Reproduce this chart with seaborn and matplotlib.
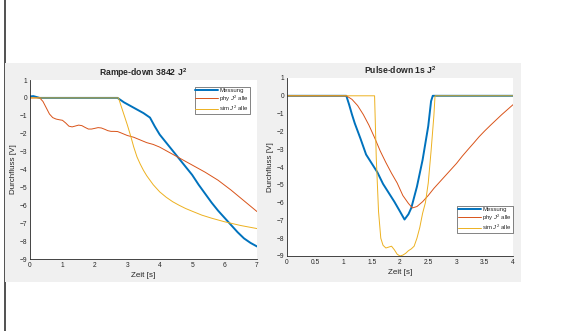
import numpy as np
import pandas as pd
import matplotlib
matplotlib.use("Agg")
import matplotlib.pyplot as plt
from matplotlib.patches import Rectangle
from matplotlib.lines import Line2D
import seaborn as sns

# --- Rampe-down 3842 J^2 ---
ramp_mess_x = [0, 0.1, 0.2, 0.3, 2.7, 2.9, 3.1, 3.3, 3.5, 3.7, 3.85, 4.0, 4.2, 4.4, 4.6, 4.8,
               5.0, 5.2, 5.4, 5.6, 5.8, 6.0, 6.2, 6.4, 6.6, 6.8, 7.0]
ramp_mess_y = [0.08, 0.1, 0.05, 0, 0, -0.25, -0.45, -0.65, -0.85, -1.1, -1.6, -2.05, -2.5, -2.95,
               -3.4, -3.85, -4.3, -4.85, -5.35, -5.85, -6.3, -6.7, -7.1, -7.5, -7.85, -8.1, -8.3]
ramp_phy_x = [0, 0.3, 0.4, 0.5, 0.6, 0.7, 0.8, 0.9, 1.0, 1.1, 1.2, 1.3, 1.4, 1.5, 1.6, 1.7, 1.8,
              1.9, 2.0, 2.1, 2.2, 2.3, 2.4, 2.5, 2.6, 2.7, 2.8, 3.0, 3.2, 3.4, 3.6, 3.8, 4.0,
              4.3, 4.6, 5.0, 5.4, 5.8, 6.2, 6.6, 7.0]
ramp_phy_y = [0, 0, -0.2, -0.55, -0.9, -1.1, -1.18, -1.22, -1.25, -1.4, -1.58, -1.62, -1.57,
              -1.52, -1.55, -1.65, -1.74, -1.74, -1.7, -1.66, -1.68, -1.75, -1.83, -1.87, -1.87,
              -1.88, -1.95, -2.1, -2.2, -2.35, -2.5, -2.6, -2.75, -3.05, -3.35, -3.75, -4.15,
              -4.6, -5.15, -5.75, -6.35]
ramp_sim_x = [0, 2.73, 2.8, 2.9, 3.0, 3.1, 3.2, 3.3, 3.4, 3.5, 3.6, 3.8, 4.0, 4.2, 4.4, 4.6,
              4.8, 5.0, 5.3, 5.6, 6.0, 6.5, 7.0]
ramp_sim_y = [0, 0, -0.4, -0.95, -1.5, -2.1, -2.75, -3.3, -3.7, -4.05, -4.35, -4.85, -5.25,
              -5.55, -5.8, -6.0, -6.18, -6.33, -6.55, -6.72, -6.92, -7.13, -7.3]

# --- Pulse-down 1s J^2 ---
pulse_mess_x = [0, 1.05, 1.1, 1.15, 1.2, 1.3, 1.4, 1.5, 1.6, 1.7, 1.8, 1.9, 2.0, 2.08, 2.15,
                2.2, 2.3, 2.4, 2.5, 2.55, 2.58, 4.0]
pulse_mess_y = [0, 0, -0.5, -1.05, -1.55, -2.4, -3.3, -3.8, -4.3, -4.95, -5.45, -5.95, -6.5,
                -6.95, -6.65, -6.3, -5.1, -3.6, -1.7, -0.3, 0, 0]
pulse_phy_x = [0, 1.05, 1.15, 1.25, 1.35, 1.45, 1.55, 1.65, 1.75, 1.85, 1.95, 2.05, 2.15, 2.22,
               2.3, 2.4, 2.5, 2.6, 2.7, 2.8, 2.9, 3.0, 3.1, 3.2, 3.3, 3.4, 3.5, 3.6, 3.7, 3.8,
               3.9, 4.0]
pulse_phy_y = [0, 0, -0.2, -0.55, -1.05, -1.65, -2.35, -3.1, -3.75, -4.35, -4.9, -5.6, -6.05,
               -6.3, -6.22, -5.95, -5.6, -5.2, -4.85, -4.5, -4.15, -3.8, -3.4, -3.03, -2.67,
               -2.3, -1.97, -1.66, -1.36, -1.06, -0.78, -0.5]
pulse_sim_x = [0, 1.55, 1.58, 1.62, 1.66, 1.7, 1.75, 1.8, 1.85, 1.9, 1.95, 2.0, 2.05, 2.1,
               2.15, 2.2, 2.25, 2.3, 2.35, 2.4, 2.45, 2.5, 2.55, 2.6, 2.62, 4.0]
pulse_sim_y = [0, 0, -3.5, -6.5, -8.0, -8.4, -8.55, -8.5, -8.45, -8.65, -8.9, -9.0, -8.95,
               -8.85, -8.7, -8.6, -8.45, -8.0, -7.4, -6.6, -6.0, -4.9, -3.1, -1.1, 0, 0]

labels = ["Messung", "phy $J^2$ alle", "sim $J^2$ alle"]
colors = ["#0072BD", "#D95319", "#EDB120"]
widths = [1.4, 0.7, 0.7]

sns.set_style("white")
plt.rcParams["font.family"] = ["Liberation Sans", "DejaVu Sans"]
plt.rcParams["mathtext.fontset"] = "custom"
plt.rcParams["mathtext.rm"] = "Liberation Sans"
plt.rcParams["mathtext.it"] = "Liberation Sans:italic"
plt.rcParams["mathtext.bf"] = "Liberation Sans:bold"

W, H = 568, 331
fig = plt.figure(figsize=(W / 100, H / 100), dpi=100)
fig.patch.set_facecolor("white")
# grey MATLAB figure panel behind the axes
fig.patches.append(Rectangle((5 / W, 1 - 282 / H), 516 / W, 219 / H, transform=fig.transFigure,
                             facecolor="#F0F0F0", edgecolor="none", zorder=-5))
fig.lines.append(Line2D([4.5 / W, 4.5 / W], [0, 1], transform=fig.transFigure,
                        color="#333333", lw=1.2, zorder=-5))

ax1 = fig.add_axes([30 / W, 1 - 259 / H, 227 / W, 179 / H])
ax2 = fig.add_axes([287 / W, 1 - 256 / H, 226 / W, 178 / H])

panels = [
    (ax1, [(ramp_mess_x, ramp_mess_y), (ramp_phy_x, ramp_phy_y), (ramp_sim_x, ramp_sim_y)],
     r"Rampe-down 3842 J$^\mathbf{2}$", 7, np.arange(0, 8, 1)),
    (ax2, [(pulse_mess_x, pulse_mess_y), (pulse_phy_x, pulse_phy_y), (pulse_sim_x, pulse_sim_y)],
     r"Pulse-down 1s J$^\mathbf{2}$", 4, np.arange(0, 4.5, 0.5)),
]

axcol = "#262626"
for ax, series, title, xmax, xt in panels:
    ax.set_facecolor("white")
    for (xs, ys), lab, c, lw in zip(series, labels, colors, widths):
        df = pd.DataFrame({"Zeit": xs, "Durchfluss": ys})
        sns.lineplot(data=df, x="Zeit", y="Durchfluss", ax=ax, color=c, lw=lw, label=lab,
                     estimator=None, sort=False)
    ax.set_xlim(0, xmax)
    ax.set_ylim(-9, 1)
    ax.set_xticks(xt)
    ax.set_xticklabels([f"{v:g}" for v in xt])
    ax.set_yticks(np.arange(-9, 2, 1))
    ax.set_xlabel("Zeit [s]", fontsize=5.8, color=axcol, labelpad=2)
    ax.set_ylabel("Durchfluss [V]", fontsize=5.8, color=axcol, labelpad=2)
    ax.set_title(title, fontsize=6.2, fontweight="bold", pad=3)
    for s in ["top", "right"]:
        ax.spines[s].set_visible(False)
    for s in ["left", "bottom"]:
        ax.spines[s].set_color(axcol)
        ax.spines[s].set_linewidth(0.6)
    ax.tick_params(direction="in", length=2, width=0.5, labelsize=4.8, colors=axcol, pad=2)

leg_kw = dict(fontsize=4.3, frameon=True, fancybox=False, handlelength=3.8, handletextpad=0.2,
              borderpad=0.15, labelspacing=0.0, borderaxespad=0)
l1 = ax1.legend(loc="upper right", bbox_to_anchor=(0.97, 0.96), **leg_kw)
l2 = ax2.legend(loc="lower right", bbox_to_anchor=(1.0, 0.13), **leg_kw)
for lg in (l1, l2):
    lg.get_frame().set_edgecolor(axcol)
    lg.get_frame().set_linewidth(0.5)

fig.savefig("out.png", dpi=100)
